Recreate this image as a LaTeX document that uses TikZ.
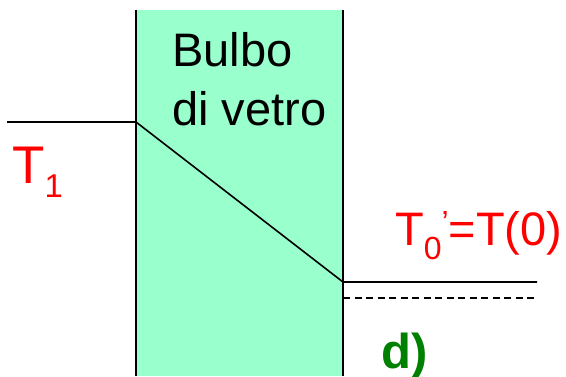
\documentclass[tikz,border=0pt]{standalone}
\usepackage{fontspec}
\setmainfont{Liberation Sans}
\usepackage{tikz}
\definecolor{glassfill}{HTML}{99FFCC}
\definecolor{tempred}{HTML}{FF0000}
\definecolor{casegreen}{HTML}{008000}

\begin{document}
\begin{tikzpicture}[x=1pt,y=-1pt,
  wall/.style={line width=2pt,black},
  profile/.style={line width=1.6pt,black},
  templabel/.style={tempred,inner sep=0pt,anchor=base west},
  bulbtext/.style={inner sep=0pt,anchor=base west,font=\fontsize{47}{56}\selectfont}]
\useasboundingbox (0,0) rectangle (566,376);

% Glass bulb (wall section)
\fill[glassfill] (136,10) rectangle (343,376);
\draw[wall] (136,10) -- (136,376);
\draw[wall] (343,10) -- (343,376);
\node[bulbtext] (bulbo) at (172,66) {Bulbo};
\node[bulbtext] (vetro) at (172,125) {di vetro};

% Temperature profile
\coordinate (outL) at (7,122);
\coordinate (inL) at (136,122);
\coordinate (inR) at (343,282);
\coordinate (outR) at (537,282);
\coordinate (dashL) at (343,298);
\coordinate (dashR) at (536,298);
\draw[profile] (outL) -- (inL) -- (inR) -- (outR);
\draw[line width=1.3pt,dash pattern=on 7pt off 4.5pt] (dashL) -- (dashR);

% Labels
\node[templabel,font=\fontsize{53}{58}\selectfont] (T1) at (12,183)
  {T\raisebox{-14pt}{\fontsize{33}{33}\selectfont 1}};
\node[templabel,font=\fontsize{47}{56}\selectfont] (T0) at (395,245)
  {T\raisebox{-14pt}{\fontsize{32}{32}\selectfont 0}\raisebox{12pt}{\fontsize{32}{32}\selectfont ’}=T(0)};
\node[inner sep=0pt,anchor=base west,casegreen,font=\bfseries\fontsize{49}{56}\selectfont] (case) at (381,368) {d)};
\end{tikzpicture}
\end{document}
